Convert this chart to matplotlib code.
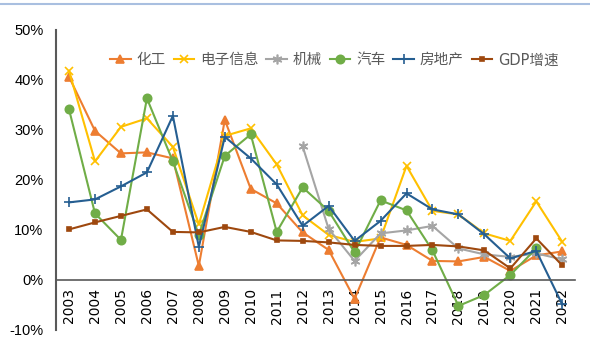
import numpy as np
import matplotlib.pyplot as plt
from matplotlib.lines import Line2D

plt.rcParams['font.family'] = ['DejaVu Sans', 'Noto Sans CJK SC']

years = [str(y) for y in range(2003, 2023)]

chem = [40.6, 29.8, 25.3, 25.5, 24.3, 2.8, 32.0, 18.2, 15.3, 9.5,
        6.0, -3.8, 8.5, 7.0, 3.8, 3.7, 4.6, 1.8, 4.9, 5.7]
elec = [41.8, 23.7, 30.6, 32.3, 26.6, 11.1, 28.8, 30.3, 23.1, 12.9,
        9.0, 7.6, 8.3, 22.8, 13.8, 13.1, 9.3, 7.8, 15.7, 7.6]
mach = [None] * 9 + [26.7, 10.2, 3.8, 9.3, 9.9, 10.8, 6.3, 5.1, 4.6, 5.3, 4.1]
auto = [34.1, 13.3, 8.0, 36.3, 23.7, 9.0, 24.8, 29.1, 9.6, 18.5,
        13.8, 5.5, 15.9, 13.9, 5.9, -5.2, -3.0, 1.0, 6.3, None]
estate = [15.5, 16.1, 18.7, 21.5, 32.8, 6.6, 28.6, 24.3, 19.1, 10.8,
          14.8, 7.8, 11.8, 17.3, 14.1, 13.1, 9.1, 4.3, 5.8, -4.9]
gdp = [10.1, 11.5, 12.8, 14.1, 9.6, 9.5, 10.6, 9.6, 7.9, 7.8,
       7.5, 7.0, 6.8, 6.8, 7.0, 6.7, 5.9, 2.3, 8.3, 2.9]

series = [
    ('化工', chem, '#ED7D31', '^', 5.5),
    ('电子信息', elec, '#FFC000', 'x', 6),
    ('机械', mach, '#A5A5A5', (6, 2, 0), 7),
    ('汽车', auto, '#70AD47', 'o', 6),
    ('房地产', estate, '#255E91', '+', 7),
    ('GDP增速', gdp, '#9E480E', 's', 2.2),
]

fig = plt.figure(figsize=(5.9, 3.51), dpi=100)
ax = fig.add_axes([0.095, 0.06, 0.88, 0.855])
x = np.arange(len(years))

handles = []
for name, vals, color, mk, ms in series:
    v = np.array([np.nan if a is None else a for a in vals], dtype=float)
    ax.plot(x, v, color=color, lw=1.5, marker=mk, markersize=ms,
            markeredgewidth=1.2, markerfacecolor=color, markeredgecolor=color)
    handles.append(Line2D([], [], color=color, lw=1.5, marker=mk, markersize=ms,
                          markeredgewidth=1.2, markerfacecolor=color,
                          markeredgecolor=color))

for s in ['top', 'right']:
    ax.spines[s].set_visible(False)
ax.spines['bottom'].set_position(('data', 0))
ax.spines['bottom'].set_color('#595959')
ax.spines['left'].set_color('#595959')
ax.spines['bottom'].set_linewidth(1.2)
ax.spines['left'].set_linewidth(1.5)

ax.set_xlim(-0.5, len(years) - 0.5)
ax.set_ylim(-10, 50)
ax.set_yticks(range(-10, 51, 10))
ax.set_yticklabels([f'{t}%' for t in range(-10, 51, 10)], fontsize=10.5,
                   family='Liberation Sans')
ax.set_xticks(x)
ax.set_xticklabels(years, rotation=90, fontsize=10)
ax.tick_params(length=0, pad=9)
ax.tick_params(axis='x', pad=6)

leg = ax.legend(handles, [s[0] for s in series], loc='center', ncol=6,
                bbox_to_anchor=(0.536, 0.9), frameon=False, fontsize=10.5,
                handlelength=1.4, handletextpad=0.4, columnspacing=0.55)
for t in leg.get_texts():
    t.set_color('#595959')

fig.add_artist(Line2D([0, 1], [0.99, 0.99], color='#A9BFE0', lw=1.5,
                      transform=fig.transFigure))

fig.savefig('out.png', dpi=100)
